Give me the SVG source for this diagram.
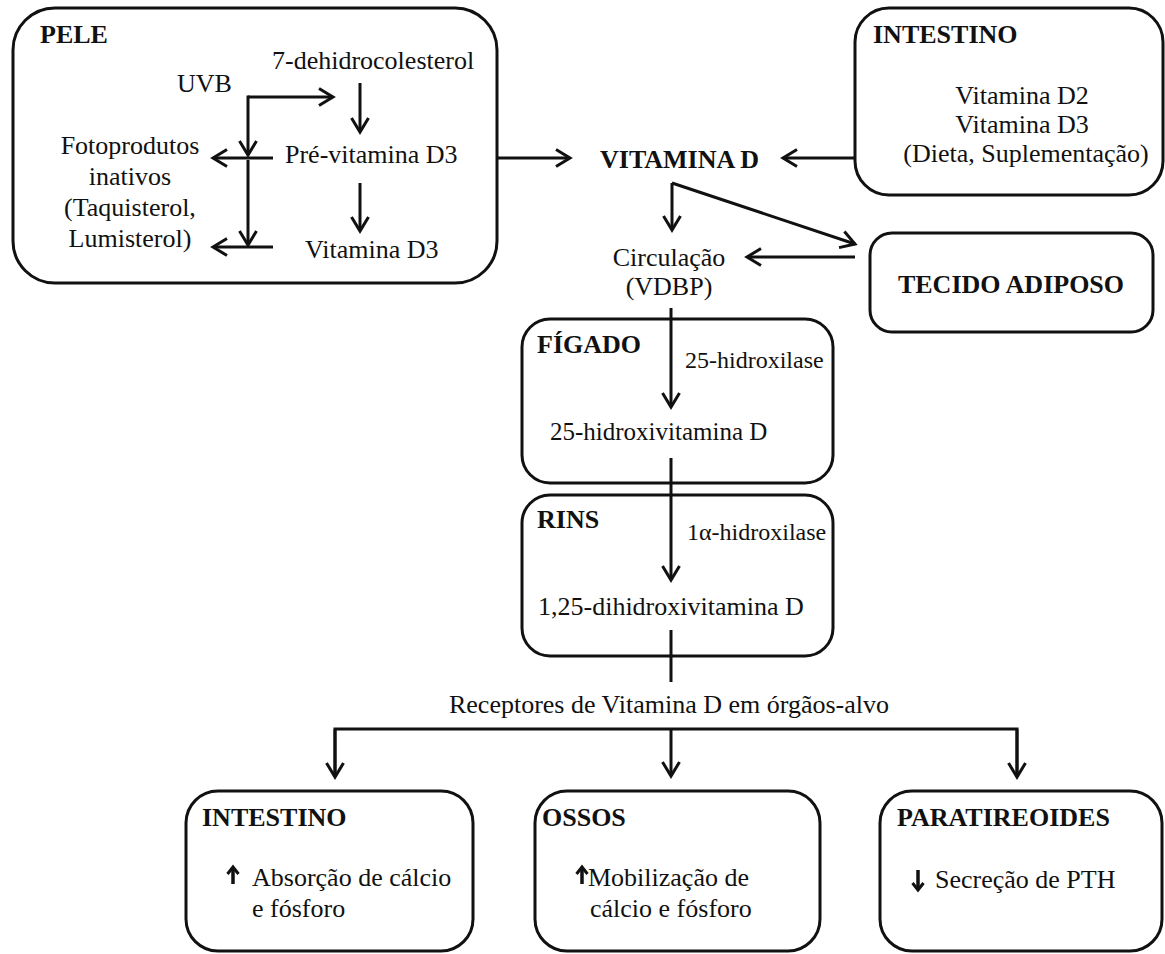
<svg xmlns="http://www.w3.org/2000/svg" width="1165" height="954" viewBox="0 0 1165 954">
<style>
.box{fill:#fff;stroke:#111;stroke-width:3}
text{font-family:'Liberation Serif',Tinos,'Times New Roman','DejaVu Serif',serif;font-size:26px;fill:#111}
.b{font-weight:bold}
.m{text-anchor:middle}
.s{font-size:24px}
.ln{fill:none;stroke:#111;stroke-width:3}
.arr{fill:none;stroke:#111;stroke-width:3;marker-end:url(#ah)}
.sa{fill:none;stroke:#111;stroke-width:3.5;marker-end:url(#sh)}
</style>
<defs>
<marker id="ah" markerUnits="userSpaceOnUse" markerWidth="30" markerHeight="30" viewBox="-20 -15 30 30" refX="0" refY="0" orient="auto" overflow="visible">
<path d="M-14,-8.5 L0,0 L-14,8.5" fill="none" stroke="#111" stroke-width="3"/>
</marker>
<marker id="sh" markerUnits="userSpaceOnUse" markerWidth="20" markerHeight="20" viewBox="-10 -10 20 20" refX="0" refY="0" orient="auto" overflow="visible">
<path d="M-7,-5.5 L0,0 L-7,5.5" fill="none" stroke="#111" stroke-width="3"/>
</marker>
</defs>
<rect width="1165" height="954" fill="#fff"/>

<g id="pele">
<rect class="box" x="13" y="8" width="484" height="275" rx="42" ry="42"/>
<text class="b" x="40" y="43">PELE</text>
<text x="272" y="69">7-dehidrocolesterol</text>
<text x="177" y="92">UVB</text>
<text x="285" y="163">Pré-vitamina D3</text>
<text x="305" y="258">Vitamina D3</text>
<text class="m" x="130" y="154">Fotoprodutos</text>
<text class="m" x="130" y="185">inativos</text>
<text class="m" x="130" y="216">(Taquisterol,</text>
<text class="m" x="130" y="247">Lumisterol)</text>
</g>

<g id="intestino-top">
<rect class="box" x="855" y="8" width="308" height="187" rx="34" ry="34"/>
<text class="b" x="873" y="43">INTESTINO</text>
<text class="m" x="1022" y="104">Vitamina D2</text>
<text class="m" x="1022" y="133">Vitamina D3</text>
<text class="m" x="1026" y="162">(Dieta, Suplementação)</text>
</g>

<g id="vitamina-d">
<text class="b" x="600" y="168">VITAMINA D</text>
</g>

<g id="circulacao">
<text class="m" x="669" y="266">Circulação</text>
<text class="m" x="669" y="295">(VDBP)</text>
</g>

<g id="tecido">
<rect class="box" x="870" y="233" width="283" height="99" rx="22" ry="22"/>
<text class="b m" x="1011" y="293">TECIDO ADIPOSO</text>
</g>

<g id="figado">
<rect class="box" x="522" y="319" width="311" height="164" rx="28" ry="28"/>
<text class="b" x="537" y="353">FÍGADO</text>
<text class="s" x="685" y="368">25-hidroxilase</text>
<text x="550" y="440" style="font-size:25px">25-hidroxivitamina D</text>
</g>

<g id="rins">
<rect class="box" x="522" y="495" width="311" height="161" rx="28" ry="28"/>
<text class="b" x="537" y="528">RINS</text>
<text class="s" x="687" y="540">1α-hidroxilase</text>
<text x="538" y="615">1,25-dihidroxivitamina D</text>
</g>

<g id="receptores">
<text class="m" x="669" y="713">Receptores de Vitamina D em órgãos-alvo</text>
</g>

<g id="intestino-bottom">
<rect class="box" x="186" y="791" width="287" height="160" rx="32" ry="32"/>
<text class="b" x="202" y="826">INTESTINO</text>
<path class="sa" d="M233,884 L233,867"/>
<text x="252" y="886">Absorção de cálcio</text>
<text x="252" y="917">e fósforo</text>
</g>

<g id="ossos">
<rect class="box" x="535" y="791" width="285" height="160" rx="32" ry="32"/>
<text class="b" x="542" y="826">OSSOS</text>
<path class="sa" d="M582,884 L582,867"/>
<text x="588" y="886">Mobilização de</text>
<text x="590" y="917">cálcio e fósforo</text>
</g>

<g id="paratireoides">
<rect class="box" x="880" y="791" width="282" height="160" rx="32" ry="32"/>
<text class="b" x="897" y="826">PARATIREOIDES</text>
<path class="sa" d="M918,870 L918,890"/>
<text x="935" y="888">Secreção de PTH</text>
</g>

<g id="connectors">
<path class="arr" d="M248,97 L333,97"/>
<path class="arr" d="M248,95.5 L248,155"/>
<path class="arr" d="M360,83 L360,132"/>
<path class="arr" d="M273,158 L213,158"/>
<path class="arr" d="M248,160 L248,245"/>
<path class="arr" d="M360,183 L360,231"/>
<path class="arr" d="M273,247 L213,247"/>
<path class="arr" d="M497,158 L570,158"/>
<path class="arr" d="M855,158 L783,158"/>
<path class="arr" d="M672,183 L672,230"/>
<path class="arr" d="M672,183 L855,244"/>
<path class="arr" d="M855,257 L747,257"/>
<path class="arr" d="M671,308 L671,407"/>
<path class="arr" d="M671,458 L671,580"/>
<path class="ln" d="M671,630 L671,682"/>
<path class="ln" d="M335,777 L335,729 L1017,729 L1017,777"/>
<path class="arr" d="M335,729 L335,777"/>
<path class="arr" d="M671,729 L671,776"/>
<path class="arr" d="M1017,729 L1017,777"/>
</g>
</svg>
